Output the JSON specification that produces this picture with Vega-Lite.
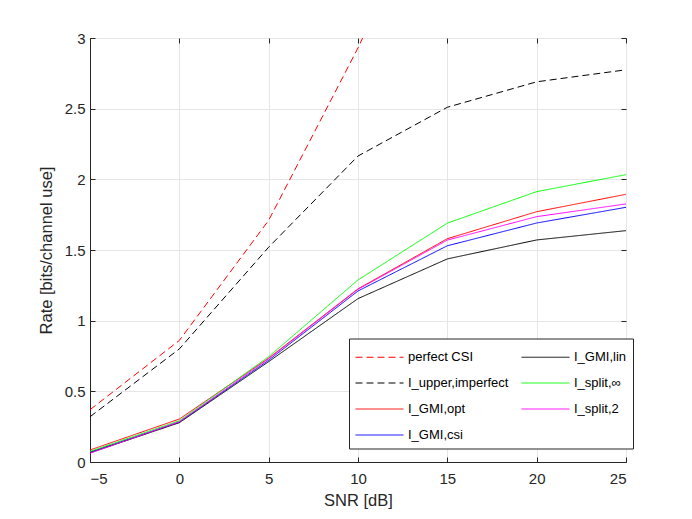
{
  "$schema": "https://vega.github.io/schema/vega-lite/v6.json",
  "width": 536,
  "height": 424,
  "autosize": "none",
  "padding": {"left": 90, "top": 38, "right": 66, "bottom": 57},
  "background": "white",
  "config": {
    "font": "Liberation Sans",
    "view": {"stroke": "#262626", "strokeWidth": 1},
    "axis": {
      "labelFont": "Liberation Sans",
      "titleFont": "Liberation Sans",
      "labelFontSize": 15,
      "titleFontSize": 16.5,
      "titleFontWeight": "normal",
      "labelColor": "#262626",
      "titleColor": "#262626",
      "domainColor": "#262626",
      "tickColor": "#262626",
      "gridColor": "#e6e6e6",
      "tickSize": -5
    },
    "legend": {
      "labelFont": "Liberation Sans",
      "labelFontSize": 13,
      "labelColor": "#000000"
    }
  },
  "data": {
    "values": [
      {"snr": -5, "rate": 0.37, "series": "perfect CSI"},
      {"snr": 0, "rate": 0.86, "series": "perfect CSI"},
      {"snr": 5, "rate": 1.71, "series": "perfect CSI"},
      {"snr": 10, "rate": 2.93, "series": "perfect CSI"},
      {"snr": 15, "rate": 4.28, "series": "perfect CSI"},
      {"snr": 20, "rate": 5.6, "series": "perfect CSI"},
      {"snr": 25, "rate": 6.9, "series": "perfect CSI"},
      {"snr": -5, "rate": 0.32, "series": "I_upper,imperfect"},
      {"snr": 0, "rate": 0.8, "series": "I_upper,imperfect"},
      {"snr": 5, "rate": 1.52, "series": "I_upper,imperfect"},
      {"snr": 10, "rate": 2.165, "series": "I_upper,imperfect"},
      {"snr": 15, "rate": 2.51, "series": "I_upper,imperfect"},
      {"snr": 20, "rate": 2.69, "series": "I_upper,imperfect"},
      {"snr": 25, "rate": 2.775, "series": "I_upper,imperfect"},
      {"snr": -5, "rate": 0.085, "series": "I_GMI,opt"},
      {"snr": 0, "rate": 0.304, "series": "I_GMI,opt"},
      {"snr": 5, "rate": 0.735, "series": "I_GMI,opt"},
      {"snr": 10, "rate": 1.225, "series": "I_GMI,opt"},
      {"snr": 15, "rate": 1.58, "series": "I_GMI,opt"},
      {"snr": 20, "rate": 1.771, "series": "I_GMI,opt"},
      {"snr": 25, "rate": 1.894, "series": "I_GMI,opt"},
      {"snr": -5, "rate": 0.07, "series": "I_GMI,csi"},
      {"snr": 0, "rate": 0.283, "series": "I_GMI,csi"},
      {"snr": 5, "rate": 0.72, "series": "I_GMI,csi"},
      {"snr": 10, "rate": 1.21, "series": "I_GMI,csi"},
      {"snr": 15, "rate": 1.53, "series": "I_GMI,csi"},
      {"snr": 20, "rate": 1.691, "series": "I_GMI,csi"},
      {"snr": 25, "rate": 1.802, "series": "I_GMI,csi"},
      {"snr": -5, "rate": 0.065, "series": "I_GMI,lin"},
      {"snr": 0, "rate": 0.278, "series": "I_GMI,lin"},
      {"snr": 5, "rate": 0.71, "series": "I_GMI,lin"},
      {"snr": 10, "rate": 1.156, "series": "I_GMI,lin"},
      {"snr": 15, "rate": 1.437, "series": "I_GMI,lin"},
      {"snr": 20, "rate": 1.571, "series": "I_GMI,lin"},
      {"snr": 25, "rate": 1.637, "series": "I_GMI,lin"},
      {"snr": -5, "rate": 0.075, "series": "I_split,∞"},
      {"snr": 0, "rate": 0.292, "series": "I_split,∞"},
      {"snr": 5, "rate": 0.745, "series": "I_split,∞"},
      {"snr": 10, "rate": 1.288, "series": "I_split,∞"},
      {"snr": 15, "rate": 1.69, "series": "I_split,∞"},
      {"snr": 20, "rate": 1.913, "series": "I_split,∞"},
      {"snr": 25, "rate": 2.033, "series": "I_split,∞"},
      {"snr": -5, "rate": 0.062, "series": "I_split,2"},
      {"snr": 0, "rate": 0.285, "series": "I_split,2"},
      {"snr": 5, "rate": 0.73, "series": "I_split,2"},
      {"snr": 10, "rate": 1.222, "series": "I_split,2"},
      {"snr": 15, "rate": 1.57, "series": "I_split,2"},
      {"snr": 20, "rate": 1.736, "series": "I_split,2"},
      {"snr": 25, "rate": 1.826, "series": "I_split,2"}
    ]
  },
  "layer": [
    {
      "mark": {"type": "line", "clip": true, "strokeWidth": 1},
      "encoding": {
        "x": {
          "field": "snr",
          "type": "quantitative",
          "scale": {"domain": [-5, 25], "nice": false},
          "axis": {"title": "SNR [dB]", "values": [-5, 0, 5, 10, 15, 20, 25], "labelPadding": 14, "titlePadding": 6}
        },
        "y": {
          "field": "rate",
          "type": "quantitative",
          "scale": {"domain": [0, 3], "nice": false},
          "axis": {"title": "Rate [bits/channel use]", "values": [0, 0.5, 1, 1.5, 2, 2.5, 3], "format": ".1~f", "labelPadding": 10, "titlePadding": 10}
        },
        "color": {
          "field": "series",
          "type": "nominal",
          "scale": {
            "domain": ["perfect CSI", "I_upper,imperfect", "I_GMI,opt", "I_GMI,csi", "I_GMI,lin", "I_split,∞", "I_split,2"],
            "range": ["#ff0000", "#000000", "#ff0000", "#0000ff", "#000000", "#00ff00", "#ff00ff"]
          },
          "legend": {
            "title": null,
            "orient": "none",
            "legendX": 259,
            "legendY": 300.5,
            "columns": 2,
            "symbolType": "M-2,0H2",
            "symbolSize": 576,
            "symbolStrokeWidth": 1,
            "symbolOffset": 12,
            "fillColor": "white",
            "strokeColor": "#262626",
            "padding": 6,
            "rowPadding": 6,
            "columnPadding": 10,
            "labelOffset": 16
          }
        },
        "strokeDash": {
          "field": "series",
          "type": "nominal",
          "scale": {
            "domain": ["perfect CSI", "I_upper,imperfect", "I_GMI,opt", "I_GMI,csi", "I_GMI,lin", "I_split,∞", "I_split,2"],
            "range": [[7, 4], [7, 4], [1, 0], [1, 0], [1, 0], [1, 0], [1, 0]]
          },
          "legend": {
            "title": null,
            "orient": "none",
            "legendX": 259,
            "legendY": 300.5,
            "columns": 2,
            "symbolType": "M-2,0H2",
            "symbolSize": 576,
            "symbolStrokeWidth": 1,
            "symbolOffset": 12,
            "fillColor": "white",
            "strokeColor": "#262626",
            "padding": 6,
            "rowPadding": 6,
            "columnPadding": 10,
            "labelOffset": 16
          }
        },
        "detail": {"field": "series"}
      }
    },
    {
      "mark": {"type": "rule", "opacity": 0},
      "encoding": {
        "x": {
          "field": "snr",
          "type": "quantitative",
          "axis": {"orient": "top", "labels": false, "title": null, "grid": false, "domain": false, "values": [-5, 0, 5, 10, 15, 20, 25]}
        },
        "y": {
          "field": "rate",
          "type": "quantitative",
          "axis": {"orient": "right", "labels": false, "title": null, "grid": false, "domain": false, "values": [0, 0.5, 1, 1.5, 2, 2.5, 3]}
        }
      }
    }
  ],
  "resolve": {"axis": {"x": "independent", "y": "independent"}}
}
